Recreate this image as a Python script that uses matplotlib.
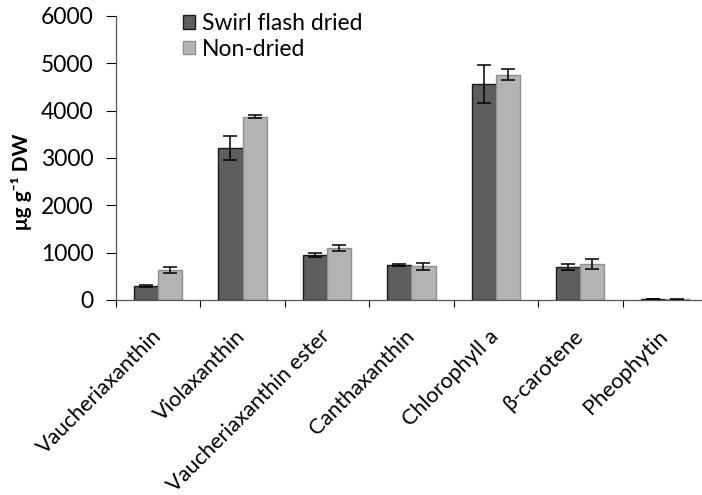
import matplotlib
matplotlib.use("Agg")
import numpy as np
from matplotlib import pyplot as plt

plt.rcParams['font.family'] = ['Lato', 'DejaVu Sans']

pigments = ['Vaucheriaxanthin', 'Violaxanthin', 'Vaucheriaxanthin ester',
            'Canthaxanthin', 'Chlorophyll a', 'β-carotene', 'Pheophytin']
flash_dried = [290, 3210, 950, 740, 4560, 690, 15]
flash_err = [25, 250, 50, 20, 400, 60, 5]
non_dried = [640, 3870, 1100, 710, 4760, 760, 10]
non_err = [60, 30, 70, 70, 110, 115, 5]

x = np.arange(len(pigments))
width = 0.285

fig = plt.figure(figsize=(7.02, 4.95), dpi=100)
ax = fig.add_axes([0.165, 0.394, 0.835, 0.574])

ebar = dict(ecolor='black', elinewidth=1.1, capsize=5, capthick=1.1)
ax.bar(x - width / 2, flash_dried, width, yerr=flash_err, color='#5e5e5e',
       edgecolor='#1a1a1a', linewidth=1.0, label='Swirl flash dried',
       error_kw=ebar)
ax.bar(x + width / 2, non_dried, width, yerr=non_err, color='#b3b3b3',
       edgecolor='#8f8f8f', linewidth=1.0, label='Non-dried',
       error_kw=ebar)

ax.set_ylim(0, 6000)
ax.set_xlim(-0.5, 6.44)
ax.set_yticks(range(0, 6001, 1000))
ax.tick_params(axis='y', labelsize=16.5, length=7, width=0.8, direction='out',
               pad=9)

ax.set_xticks(x)
ax.set_xticklabels(pigments, rotation=45, ha='right', va='center',
                   rotation_mode='anchor', fontsize=15.7)
ax.tick_params(axis='x', which='major', length=0, pad=24)
ax.set_xticks(np.arange(-0.5, 6.5, 1.0), minor=True)
ax.tick_params(axis='x', which='minor', length=5, width=0.8, direction='out')

for side in ('top', 'right'):
    ax.spines[side].set_visible(False)
for side in ('left', 'bottom'):
    ax.spines[side].set_color('#555555')
    ax.spines[side].set_linewidth(0.9)

ax.set_ylabel('μg g⁻¹ DW', fontsize=15, fontweight='bold')
ax.yaxis.set_label_coords(-0.143, 0.415)

ax.legend(loc='upper left', bbox_to_anchor=(0.114, 1.01), frameon=False,
          fontsize=16.5, handlelength=0.56, handleheight=0.56,
          handletextpad=0.3, labelspacing=0.2, borderaxespad=0,
          borderpad=0)

fig.savefig('out.png', dpi=100)
